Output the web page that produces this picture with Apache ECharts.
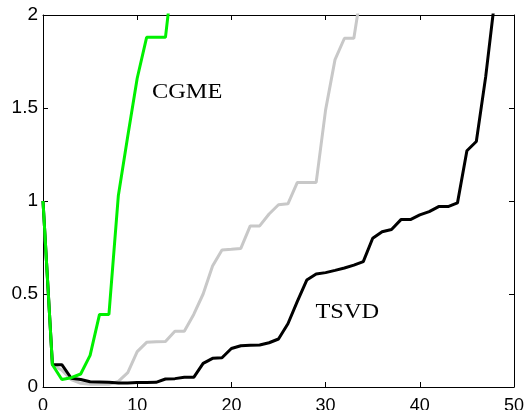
<!DOCTYPE html>
<html>
<head>
<meta charset="utf-8">
<script src="https://cdn.jsdelivr.net/npm/echarts@6/dist/echarts.min.js"></script>
<style>
  html, body { margin: 0; padding: 0; background: #fff; }
  #main { width: 526px; height: 410px; }
</style>
</head>
<body>
<div id="main"></div>
<script>
// values, x = 0, 1, 2, ...
const cgmeValues = [1.0, 0.12, 0.04, 0.05, 0.07, 0.17, 0.39, 0.39, 1.03, 1.35,
	1.66, 1.88, 1.88, 1.88, 2.32];
const grayValues = [1.0, 0.12, 0.09, 0.04, 0.02, 0.015, 0.015, 0.015, 0.03, 0.077,
	0.19, 0.24, 0.243, 0.245, 0.30, 0.30, 0.39, 0.50, 0.65, 0.737,
	0.74, 0.745, 0.866, 0.866, 0.93, 0.98, 0.985, 1.10, 1.10, 1.10,
	1.49, 1.76, 1.875, 1.875, 2.2];
const tsvdValues = [1.0, 0.12, 0.12, 0.047, 0.04, 0.028, 0.027, 0.025, 0.022, 0.022,
	0.024, 0.024, 0.025, 0.043, 0.045, 0.052, 0.052, 0.127, 0.154, 0.157,
	0.207, 0.222, 0.224, 0.226, 0.238, 0.258, 0.34, 0.46, 0.575, 0.607,
	0.615, 0.627, 0.64, 0.655, 0.674, 0.80, 0.835, 0.847, 0.90, 0.90,
	0.925, 0.943, 0.97, 0.97, 0.99, 1.27, 1.32, 1.67, 2.1];

// text labels inside the plot, in data units
const cgmeLabel = [15.3, 1.58];
const tsvdLabel = [32.3, 0.40];

function toPairs(arr) {
	return arr.map(function (v, i) { return [i, v]; });
}

const chart = echarts.init(document.getElementById('main'));

const tickFont = {
	color: '#000',
	fontFamily: 'Liberation Sans',
	fontSize: 18
};

function lineSeries(values, color) {
	return {
		type: 'line',
		data: toPairs(values),
		symbol: 'none',
		clip: true,
		lineStyle: { color: color, width: 3 },
		itemStyle: { color: color },
		animation: false
	};
}

function boxAxis(extra) {
	return Object.assign({
		type: 'value',
		axisLine: { show: true, onZero: false, lineStyle: { color: '#000', width: 1 } },
		axisTick: { show: true, inside: true, length: 5, lineStyle: { color: '#000' } },
		splitLine: { show: false }
	}, extra);
}

let option = {
	backgroundColor: '#fff',
	animation: false,
	grid: { left: 43, right: 12, top: 15, bottom: 23, containLabel: false, outerBoundsMode: 'none' },
	xAxis: [
		boxAxis({ min: 0, max: 50, interval: 10, axisLabel: Object.assign({ margin: 10 }, tickFont) }),
		boxAxis({ position: 'top', min: 0, max: 50, interval: 10, axisLabel: { show: false } })
	],
	yAxis: [
		boxAxis({ min: 0, max: 2, interval: 0.5, axisLabel: Object.assign({ margin: 5 }, tickFont, { fontSize: 19 }) }),
		boxAxis({ position: 'right', min: 0, max: 2, interval: 0.5, axisLabel: { show: false } })
	],
	series: [
		lineSeries(grayValues, '#c8c8c8'),
		lineSeries(tsvdValues, '#000000'),
		lineSeries(cgmeValues, '#00f000')
	]
};

chart.setOption(option);

// serif labels placed at data coordinates
function textEl(pos, text) {
	const p = chart.convertToPixel({ gridIndex: 0 }, pos);
	return {
		type: 'text',
		x: p[0],
		y: p[1],
		scaleX: 1.22,
		silent: true,
		style: {
			text: text,
			fill: '#000',
			font: '20px "Liberation Serif"',
			align: 'center',
			verticalAlign: 'middle'
		}
	};
}

chart.setOption({
	graphic: [textEl(cgmeLabel, 'CGME'), textEl(tsvdLabel, 'TSVD')]
});
</script>
</body>
</html>
